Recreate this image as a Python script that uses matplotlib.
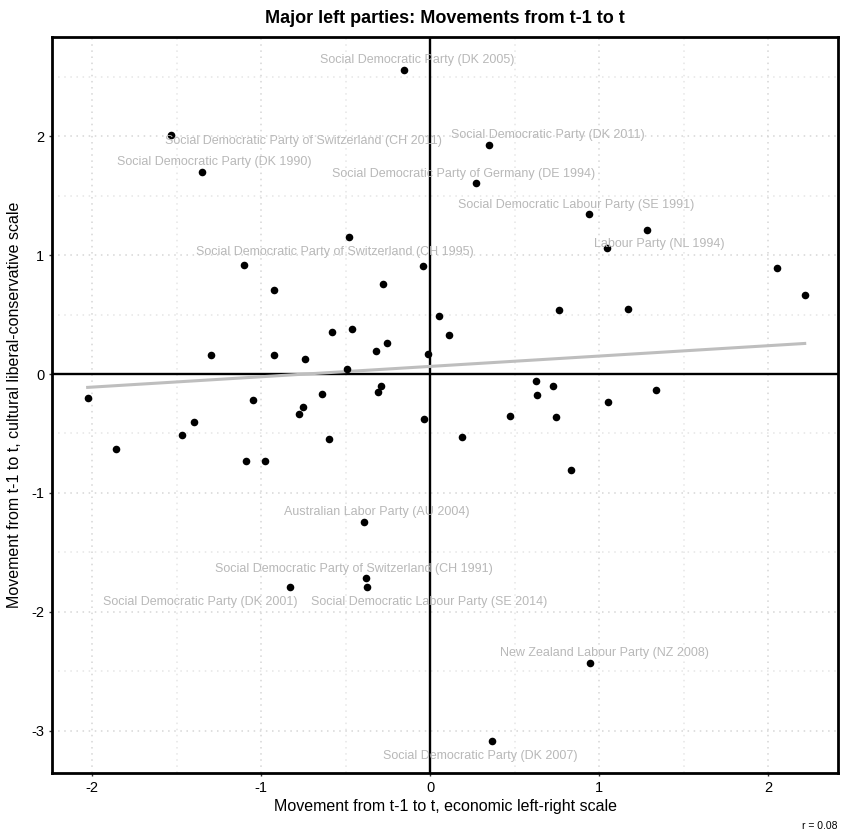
import numpy as np
import matplotlib
matplotlib.use("Agg")
import matplotlib.pyplot as plt

plt.rcParams["font.family"] = ["Liberation Sans", "DejaVu Sans"]

# movement on economic left-right scale (t-1 -> t)
econ = [-0.152, -1.531, -1.351, -0.481, -1.099, -0.043, -0.925, -0.278, 0.055, 0.114,
        -0.582, -0.460, -0.256, -0.318, -1.298, -0.925, -0.740, -0.014, -0.491, 0.351,
        0.274, 0.941, 1.286, 1.045, 2.053, 2.217, 0.761, 1.174, -2.026, -1.856,
        -1.467, -1.396, -1.045, -1.089, -0.978, -0.753, -0.773, -0.637, -0.598, -0.288,
        -0.308, -0.037, -0.391, 0.625, 0.730, 0.631, 1.335, 1.055, 0.475, 0.746,
        0.187, 0.836, -0.380, -0.374, -0.827, 0.949, 0.367]
# movement on cultural liberal-conservative scale
cult = [2.552, 2.011, 1.697, 1.149, 0.918, 0.905, 0.708, 0.759, 0.487, 0.325,
        0.350, 0.378, 0.258, 0.193, 0.162, 0.162, 0.123, 0.168, 0.039, 1.927,
        1.605, 1.345, 1.210, 1.056, 0.891, 0.667, 0.538, 0.546, -0.202, -0.630,
        -0.513, -0.403, -0.218, -0.728, -0.734, -0.277, -0.339, -0.171, -0.546, -0.098,
        -0.151, -0.375, -1.246, -0.059, -0.098, -0.179, -0.134, -0.235, -0.353, -0.364,
        -0.527, -0.807, -1.717, -1.787, -1.787, -2.426, -3.081]

# labelled cases: index into the arrays above -> label
labels = {
    0: "Social Democratic Party (DK 2005)",
    1: "Social Democratic Party of Switzerland (CH 2011)",
    2: "Social Democratic Party (DK 1990)",
    3: "Social Democratic Party of Switzerland (CH 1995)",
    19: "Social Democratic Party (DK 2011)",
    20: "Social Democratic Party of Germany (DE 1994)",
    21: "Social Democratic Labour Party (SE 1991)",
    23: "Labour Party (NL 1994)",
    42: "Australian Labor Party (AU 2004)",
    52: "Social Democratic Party of Switzerland (CH 1991)",
    53: "Social Democratic Labour Party (SE 2014)",
    54: "Social Democratic Party (DK 2001)",
    55: "New Zealand Labour Party (NZ 2008)",
    56: "Social Democratic Party (DK 2007)",
}
# label offsets in pixels (repel-style placement)
offsets = {
    0: (13, 10), 1: (132, -6), 2: (13, 10), 3: (-14, -15),
    19: (58, 10), 20: (-13, 9), 21: (-13, 9), 23: (53, 4),
    42: (13, 10), 52: (-12, 9), 53: (62, -15), 54: (-90, -15),
    55: (14, 10), 56: (-12, -15),
}

x = np.array(econ)
y = np.array(cult)

fig = plt.figure(figsize=(8.43, 8.38), dpi=100)
ax = fig.add_axes([52 / 843, 65 / 838, 786 / 843, 736 / 838])

ax.set_xlim(-2.237, 2.414)
ax.set_ylim(-3.353, 2.832)

# dotted grid, major at integers, minor at halves
for gx in np.arange(-2, 2.51, 0.5):
    c = "#d6d6d6" if gx == int(gx) else "#e6e6e6"
    ax.axvline(gx, color=c, linestyle=(0, (1, 3)), linewidth=1.1, zorder=0)
for gy in np.arange(-3, 2.51, 0.5):
    c = "#d6d6d6" if gy == int(gy) else "#e6e6e6"
    ax.axhline(gy, color=c, linestyle=(0, (1, 3)), linewidth=1.1, zorder=0)

ax.axhline(0, color="black", linewidth=1.7, zorder=1)
ax.axvline(0, color="black", linewidth=1.7, zorder=1)

slope, intercept = np.polyfit(x, y, 1)
xs = np.array([x.min(), x.max()])
ax.plot(xs, intercept + slope * xs, color="#bebebe", linewidth=2.2, zorder=2)

ax.scatter(x, y, s=30, color="black", zorder=3, linewidths=0)

for i, txt in labels.items():
    ax.annotate(txt, (x[i], y[i]), xytext=offsets[i], textcoords="offset pixels",
                ha="center", va="center", fontsize=9, color="#b8b8b8", zorder=4)

for sp in ax.spines.values():
    sp.set_linewidth(2.0)
    sp.set_color("black")

ax.set_xticks([-2, -1, 0, 1, 2])
ax.set_yticks([-3, -2, -1, 0, 1, 2])
ax.set_xticklabels(["-2", "-1", "0", "1", "2"])
ax.set_yticklabels(["-3", "-2", "-1", "0", "1", "2"])
ax.tick_params(direction="out", length=2.5, width=1, labelsize=10.5, color="#333333",
               labelcolor="black", pad=3)

ax.set_xlabel("Movement from t-1 to t, economic left-right scale", fontsize=11.5, labelpad=3)
ax.set_ylabel("Movement from t-1 to t, cultural liberal-conservative scale", fontsize=11.5, labelpad=7)
ax.set_title("Major left parties: Movements from t-1 to t", fontsize=13, fontweight="bold", pad=10)

fig.text(838 / 843, 7 / 838, "r = 0.08", ha="right", va="bottom", fontsize=7.5)

fig.savefig("out.png", dpi=100)
